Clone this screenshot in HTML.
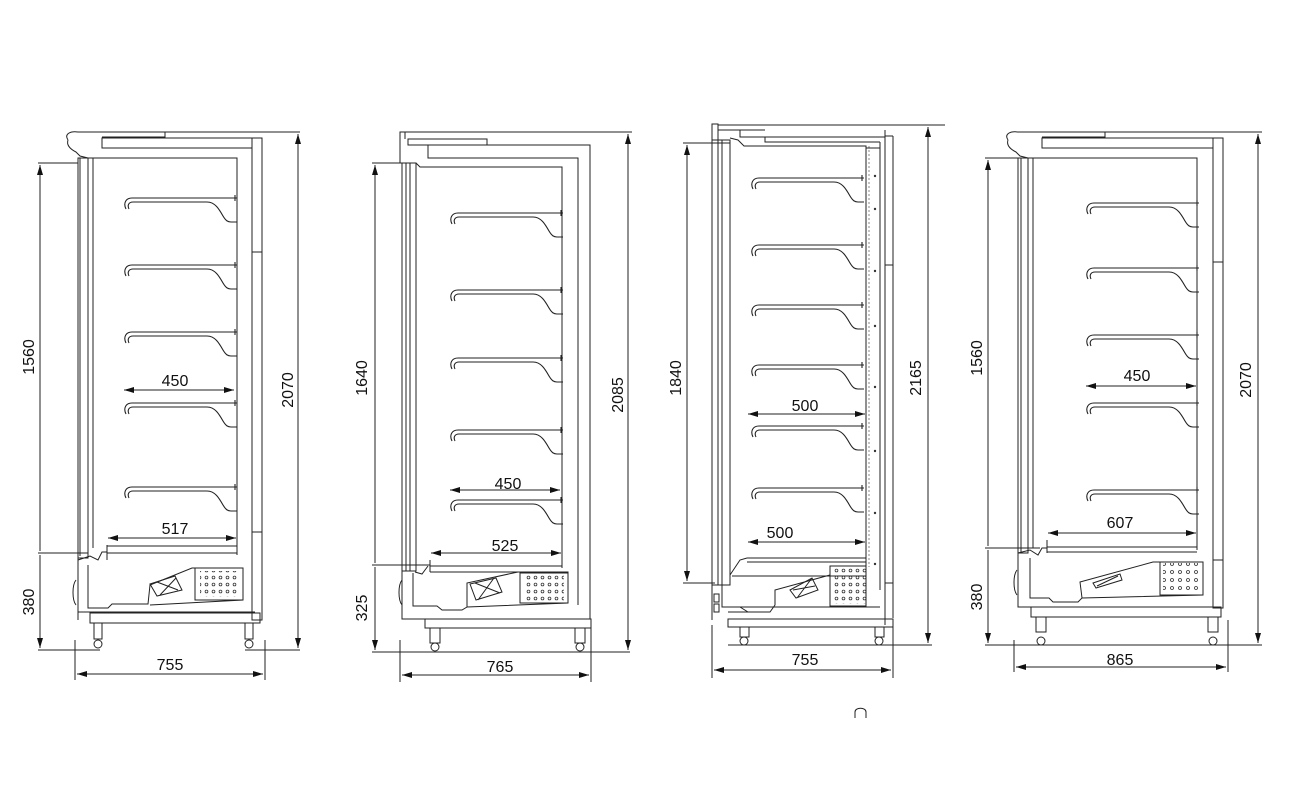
<!DOCTYPE html>
<html><head><meta charset="utf-8"><style>
html,body{margin:0;padding:0;background:#fff;width:1300px;height:800px;overflow:hidden}
svg{display:block}
text{font-family:"Liberation Sans",sans-serif;font-size:16px;fill:#111}
</style></head><body>
<svg width="1300" height="800" viewBox="0 0 1300 800" xmlns="http://www.w3.org/2000/svg">
<defs>
<symbol id="sh" viewBox="0 0 114 28" overflow="visible">
<path d="M3,12 C0,6 3,1 9,1 L114,1 M112,-2 L112,4 M6,12 C4,8 6,5 10,5 L84,5 C92,5 96,12 100,19 C103,24 105,25 108,25 L114,25" fill="none" stroke="#222" stroke-width="1.1"/>
</symbol>
<marker id="ar" viewBox="0 0 10 6" refX="10" refY="3" markerWidth="10" markerHeight="6" orient="auto-start-reverse" markerUnits="userSpaceOnUse"><path d="M0,0 L10,3 L0,6z" fill="#111"/></marker>
<pattern id="dots" width="7" height="7" patternUnits="userSpaceOnUse"><circle cx="3.5" cy="3.5" r="1.4" fill="none" stroke="#333" stroke-width="0.8"/></pattern>
<pattern id="dots2" width="8" height="8" patternUnits="userSpaceOnUse"><circle cx="4" cy="4" r="1.5" fill="none" stroke="#333" stroke-width="0.8"/></pattern>
</defs>
<g fill="none" stroke="#222" stroke-width="1">

<!-- ================= UNIT 1 ================= -->
<path d="M68,140 C64,134 70,131 78,132 L165,132 L165,137 L102,137"/>
<path d="M68,140 C66,146 72,150 76,152 L80,156 L88,158"/>
<path d="M165,132 L300,132"/>
<rect x="102" y="138" width="150" height="10"/>
<rect x="252" y="138" width="10" height="482"/>
<path d="M252,252 H262 M252,532 H262"/>
<rect x="78" y="158" width="10" height="400"/>
<path d="M80,158 V556"/>
<path d="M88,158 H237 V555"/>
<path d="M93,158 V548"/>
<use href="#sh" x="123" y="197" width="114" height="28"/>
<use href="#sh" x="123" y="264" width="114" height="28"/>
<use href="#sh" x="123" y="331" width="114" height="28"/>
<use href="#sh" x="123" y="402" width="114" height="28"/>
<use href="#sh" x="123" y="486" width="114" height="28"/>
<path d="M107,545 V560 M107,553 H237 M107,546 H237"/>
<path d="M78,560 L90,556 L98,560 L102,552 L107,552"/>
<path d="M78,558 V620 M78,612 H255 M88,565 V608 L108,608 L112,604 L148,604 L150,585 L192,568 L243,568 V600 L150,605"/>
<rect x="195" y="568" width="48" height="32"/>
<rect x="200" y="571" width="38" height="26" stroke="none" fill="url(#dots)"/>
<path d="M150,584 L175,576 L182,590 L157,596 Z M157,582 L178,590 M160,595 L176,578"/>
<path d="M76,580 C72,585 72,600 76,605"/>
<rect x="90" y="613" width="170" height="10"/>
<rect x="94" y="623" width="8" height="16"/><circle cx="98" cy="644" r="4"/>
<rect x="245" y="623" width="8" height="16"/><circle cx="249" cy="644" r="4"/>
</g>
<g stroke="#222" stroke-width="1" fill="none">
<path d="M38,163 H78 M38,553 H88 M38,650 H100" />
<path d="M40,165 V551 M40,555 V648" marker-start="url(#ar)" marker-end="url(#ar)"/>
<path d="M262,132 H300 M245,650 H300"/>
<path d="M298,134 V648" marker-start="url(#ar)" marker-end="url(#ar)"/>
<path d="M75,640 V680 M265,640 V680"/>
<path d="M77,674 H263" marker-start="url(#ar)" marker-end="url(#ar)"/>
<path d="M124,390 H234" marker-start="url(#ar)" marker-end="url(#ar)"/>
<path d="M108,538 H236" marker-start="url(#ar)" marker-end="url(#ar)"/>
</g>
<text x="175" y="386" text-anchor="middle">450</text>
<text x="175" y="534" text-anchor="middle">517</text>
<text x="170" y="670" text-anchor="middle">755</text>
<text transform="translate(34,357) rotate(-90)" text-anchor="middle">1560</text>
<text transform="translate(34,602) rotate(-90)" text-anchor="middle">380</text>
<text transform="translate(293,390) rotate(-90)" text-anchor="middle">2070</text>

<!-- ================= UNIT 2 ================= -->
<g fill="none" stroke="#222" stroke-width="1">
<path d="M400,163 V132 H630"/>
<path d="M405,132 V139"/>
<rect x="408" y="139" width="79" height="6"/>
<path d="M428,145 H590 V619 M428,145 V158 H578 V605"/>
<rect x="402" y="163" width="14" height="408"/>
<path d="M406,163 V571 M410,163 V571"/>
<path d="M416,163 L420,167 H562 V568"/>
<use href="#sh" x="449" y="212" width="114" height="28"/>
<use href="#sh" x="449" y="289" width="114" height="28"/>
<use href="#sh" x="449" y="357" width="114" height="28"/>
<use href="#sh" x="449" y="429" width="114" height="28"/>
<use href="#sh" x="449" y="499" width="114" height="28"/>
<path d="M430,566 H562 M430,572 H568 M430,560 V572 M415,572 L422,574 L428,566"/>
<path d="M402,571 V619 H590 M413,573 V606 L437,606 L442,610 L462,610 L467,607 L467,583 L518,572 L568,572 V603 L467,607"/>
<rect x="520" y="573" width="48" height="30"/>
<rect x="524" y="575" width="40" height="26" stroke="none" fill="url(#dots)"/>
<path d="M470,584 L496,578 L502,592 L476,600 Z M475,583 L500,593 M478,600 L494,578"/>
<path d="M402,580 C398,585 398,600 402,605"/>
<rect x="425" y="619" width="166" height="9"/>
<rect x="430" y="628" width="10" height="15"/><circle cx="435" cy="647" r="4"/>
<rect x="575" y="628" width="10" height="15"/><circle cx="580" cy="647" r="4"/>
</g>
<g stroke="#222" stroke-width="1" fill="none">
<path d="M372,163 H416 M372,565 H430 M372,652 H630 M590,132 H632"/>
<path d="M375,165 V563 M375,567 V650" marker-start="url(#ar)" marker-end="url(#ar)"/>
<path d="M628,134 V650" marker-start="url(#ar)" marker-end="url(#ar)"/>
<path d="M400,640 V682 M591,628 V682"/>
<path d="M402,675 H589" marker-start="url(#ar)" marker-end="url(#ar)"/>
<path d="M450,490 H560" marker-start="url(#ar)" marker-end="url(#ar)"/>
<path d="M431,553 H561" marker-start="url(#ar)" marker-end="url(#ar)"/>
</g>
<text x="508" y="489" text-anchor="middle">450</text>
<text x="505" y="551" text-anchor="middle">525</text>
<text x="500" y="672" text-anchor="middle">765</text>
<text transform="translate(367,378) rotate(-90)" text-anchor="middle">1640</text>
<text transform="translate(367,608) rotate(-90)" text-anchor="middle">325</text>
<text transform="translate(623,395) rotate(-90)" text-anchor="middle">2085</text>

<!-- ================= UNIT 3 ================= -->
<g fill="none" stroke="#222" stroke-width="1">
<path d="M712,124 V140 H718 V124 Z"/>
<path d="M718,125 H945 M718,130 H765 M740,130 V137 H885 M885,130 V625"/>
<path d="M740,137 H880 M765,137 V142 H880"/>
<path d="M893,136 V618 M885,136 H893 M885,265 H893 M885,583 H893"/>
<rect x="712" y="140" width="18" height="445"/>
<path d="M718,140 V585 M722,140 V585"/>
<path d="M730,138 L738,140 L744,146 H866 V567"/>
<path d="M869,146 V567" stroke-dasharray="2,2" stroke="#888"/>
<path d="M866,148 H880 M880,142 V590"/>
<g fill="#333" stroke="none"><circle cx="875" cy="176" r="1.2"/><circle cx="875" cy="209" r="1.2"/><circle cx="875" cy="271" r="1.2"/><circle cx="875" cy="326" r="1.2"/><circle cx="875" cy="387" r="1.2"/><circle cx="875" cy="451" r="1.2"/><circle cx="875" cy="513" r="1.2"/><circle cx="875" cy="564" r="1.2"/></g>
<use href="#sh" x="747" y="177" width="120" height="28"/>
<use href="#sh" x="747" y="244" width="120" height="28"/>
<use href="#sh" x="747" y="304" width="120" height="28"/>
<use href="#sh" x="747" y="364" width="120" height="28"/>
<use href="#sh" x="747" y="425" width="120" height="28"/>
<use href="#sh" x="747" y="487" width="120" height="28"/>
<path d="M747,558 H866 M747,562 H866 M730,575 L740,560 L747,558"/>
<path d="M712,585 V620 M722,585 V607 H880 M722,590 V607 M740,607 L748,612 L770,612 L775,605 L775,590 L830,575 M728,612 H770"/>
<path d="M732,576 H866 V607"/>
<rect x="830" y="566" width="36" height="40"/>
<rect x="832" y="568" width="34" height="36" stroke="none" fill="url(#dots)"/>
<path d="M790,590 L812,578 L818,590 L796,598 Z M793,590 L815,586 M797,598 L812,578"/>
<rect x="714" y="594" width="5" height="8"/><rect x="714" y="604" width="5" height="8"/>
<rect x="728" y="619" width="165" height="8"/>
<rect x="740" y="627" width="9" height="10"/><circle cx="744" cy="641" r="4"/>
<rect x="875" y="627" width="9" height="10"/><circle cx="879" cy="641" r="4"/>
<path d="M855,718 V712 C855,707 866,707 866,712 V718"/>
</g>
<g stroke="#222" stroke-width="1" fill="none">
<path d="M683,143 H730 M683,583 H715 M728,645 H932"/>
<path d="M687,145 V581" marker-start="url(#ar)" marker-end="url(#ar)"/>
<path d="M928,127 V643" marker-start="url(#ar)" marker-end="url(#ar)"/>
<path d="M712,625 V678 M893,625 V678"/>
<path d="M714,670 H891" marker-start="url(#ar)" marker-end="url(#ar)"/>
<path d="M748,414 H865" marker-start="url(#ar)" marker-end="url(#ar)"/>
<path d="M748,542 H865" marker-start="url(#ar)" marker-end="url(#ar)"/>
</g>
<text x="805" y="411" text-anchor="middle">500</text>
<text x="780" y="538" text-anchor="middle">500</text>
<text x="805" y="665" text-anchor="middle">755</text>
<text transform="translate(681,378) rotate(-90)" text-anchor="middle">1840</text>
<text transform="translate(921,378) rotate(-90)" text-anchor="middle">2165</text>

<!-- ================= UNIT 4 ================= -->
<g fill="none" stroke="#222" stroke-width="1">
<path d="M1008,140 C1004,134 1010,131 1018,132 L1105,132 L1105,137 L1042,137"/>
<path d="M1008,140 C1006,146 1012,150 1016,152 L1020,156 L1028,158"/>
<path d="M1105,132 H1260"/>
<rect x="1042" y="138" width="171" height="10"/>
<rect x="1213" y="138" width="10" height="470"/>
<path d="M1213,262 H1223 M1213,560 H1223"/>
<rect x="1018" y="158" width="10" height="395"/>
<path d="M1021,158 V553"/>
<path d="M1028,158 H1197 V550"/>
<path d="M1033,158 V548"/>
<use href="#sh" x="1085" y="202" width="114" height="28"/>
<use href="#sh" x="1085" y="267" width="114" height="28"/>
<use href="#sh" x="1085" y="334" width="114" height="28"/>
<use href="#sh" x="1085" y="402" width="114" height="28"/>
<use href="#sh" x="1085" y="489" width="114" height="28"/>
<path d="M1047,540 V553 M1047,547 H1197 M1047,552 H1197"/>
<path d="M1018,553 L1030,550 L1038,555 L1042,548 L1047,548"/>
<path d="M1018,553 V607 H1215 M1030,558 V598 L1049,598 L1053,602 L1078,602 L1082,598 L1080,582 L1153,562 L1203,562 V595 L1082,598"/>
<rect x="1160" y="562" width="43" height="33"/>
<rect x="1163" y="563" width="36" height="30" stroke="none" fill="url(#dots2)"/>
<path d="M1093,583 L1120,574 L1122,580 L1096,588 Z M1097,586 L1118,576"/>
<path d="M1017,570 C1013,575 1013,590 1017,595"/>
<rect x="1031" y="607" width="190" height="10"/>
<rect x="1036" y="617" width="10" height="15"/><circle cx="1041" cy="641" r="4"/>
<rect x="1208" y="617" width="10" height="15"/><circle cx="1213" cy="641" r="4"/>
</g>
<g stroke="#222" stroke-width="1" fill="none">
<path d="M985,158 H1018 M985,548 H1040 M985,645 H1262"/>
<path d="M988,160 V546 M988,550 V643" marker-start="url(#ar)" marker-end="url(#ar)"/>
<path d="M1223,132 H1262"/>
<path d="M1258,134 V643" marker-start="url(#ar)" marker-end="url(#ar)"/>
<path d="M1014,640 V672 M1228,620 V672"/>
<path d="M1016,667 H1226" marker-start="url(#ar)" marker-end="url(#ar)"/>
<path d="M1086,386 H1196" marker-start="url(#ar)" marker-end="url(#ar)"/>
<path d="M1048,533 H1196" marker-start="url(#ar)" marker-end="url(#ar)"/>
</g>
<text x="1137" y="381" text-anchor="middle">450</text>
<text x="1120" y="528" text-anchor="middle">607</text>
<text x="1120" y="665" text-anchor="middle">865</text>
<text transform="translate(982,358) rotate(-90)" text-anchor="middle">1560</text>
<text transform="translate(982,597) rotate(-90)" text-anchor="middle">380</text>
<text transform="translate(1251,380) rotate(-90)" text-anchor="middle">2070</text>
</svg>
</body></html>
